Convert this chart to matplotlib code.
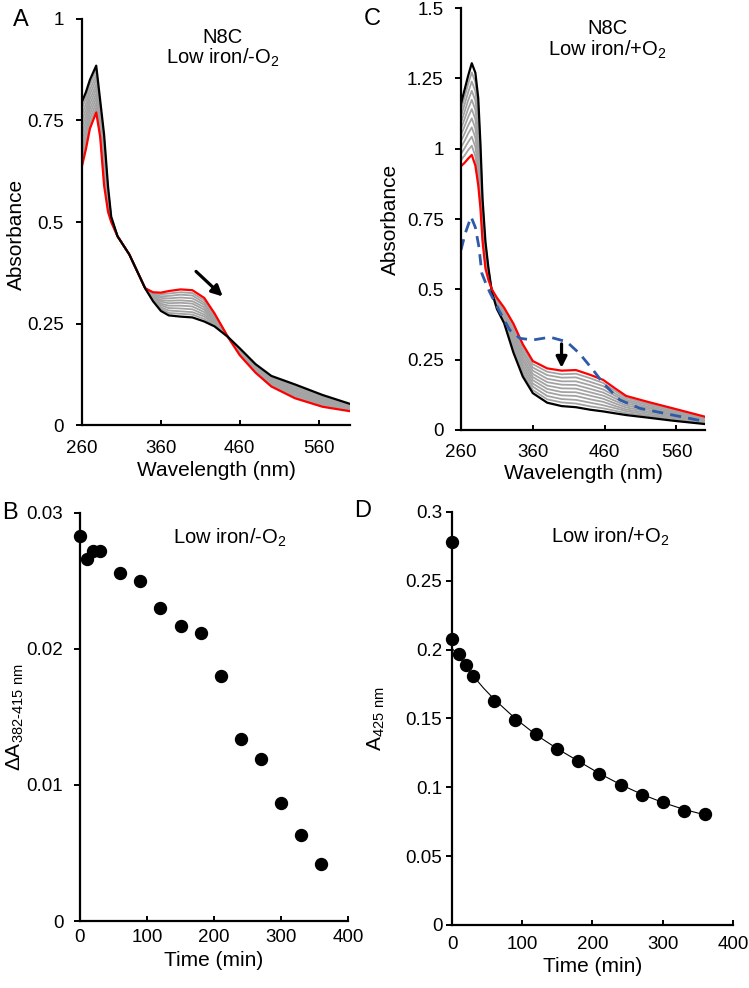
import matplotlib
matplotlib.use('Agg')
import matplotlib.pyplot as plt

plt.rcParams['font.family'] = ['Liberation Sans', 'DejaVu Sans']
plt.rcParams['mathtext.fontset'] = 'custom'
plt.rcParams['mathtext.rm'] = 'Liberation Sans'
plt.rcParams['mathtext.default'] = 'regular'

# ---- panel A: spectra, low iron / -O2 ----
wl_A = [260, 265, 270, 278, 283, 288, 293, 297, 305, 320, 340, 350, 360, 370,
        385, 400, 415, 428, 445, 460, 480, 500, 530, 565, 600]
red_A = [0.638, 0.68, 0.73, 0.77, 0.71, 0.59, 0.525, 0.50, 0.465, 0.42, 0.337,
         0.327, 0.326, 0.330, 0.334, 0.332, 0.313, 0.275, 0.217, 0.172, 0.129,
         0.095, 0.066, 0.045, 0.034]
black_A = [0.796, 0.82, 0.85, 0.885, 0.80, 0.715, 0.587, 0.513, 0.465, 0.42,
           0.337, 0.305, 0.281, 0.270, 0.267, 0.265, 0.255, 0.243, 0.217, 0.189,
           0.150, 0.121, 0.100, 0.074, 0.052]
gray_A = [
    [.654, .694, .742, .782, .719, .603, .531, .501, .465, .42, .337, .325, .322, .324, .327, .325, .307, .272, .217, .174, .131, .098, .069, .048, .036],
    [.670, .708, .754, .793, .728, .615, .537, .503, .465, .42, .337, .323, .317, .318, .321, .319, .301, .269, .217, .175, .133, .100, .073, .051, .038],
    [.685, .722, .766, .805, .737, .628, .544, .504, .465, .42, .337, .320, .313, .312, .314, .312, .296, .265, .217, .177, .135, .103, .076, .054, .039],
    [.701, .736, .778, .816, .746, .640, .550, .505, .465, .42, .337, .318, .308, .306, .307, .305, .290, .262, .217, .179, .137, .105, .080, .057, .041],
    [.717, .750, .790, .828, .755, .653, .556, .507, .465, .42, .337, .316, .304, .300, .301, .299, .284, .259, .217, .181, .140, .108, .083, .060, .043],
    [.733, .764, .802, .839, .764, .665, .562, .508, .465, .42, .337, .314, .299, .294, .294, .292, .278, .256, .217, .182, .142, .111, .086, .062, .045],
    [.749, .778, .814, .851, .773, .678, .568, .509, .465, .42, .337, .312, .295, .288, .287, .285, .272, .253, .217, .184, .144, .113, .090, .065, .047],
    [.764, .792, .826, .862, .782, .690, .575, .510, .465, .42, .337, .309, .290, .282, .280, .278, .267, .249, .217, .186, .146, .116, .093, .068, .048],
    [.780, .806, .838, .874, .791, .703, .581, .512, .465, .42, .337, .307, .286, .276, .274, .272, .261, .246, .217, .187, .148, .118, .097, .071, .050],
]

# ---- panel C: spectra, low iron / +O2 ----
wl_C = [260, 265, 270, 275, 280, 284, 287, 290, 294, 298, 303, 310, 320, 333,
        346, 360, 380, 400, 420, 440, 458, 475, 490, 520, 555, 600]
red_C = [0.938, 0.95, 0.965, 0.978, 0.94, 0.87, 0.79, 0.67, 0.575, 0.535, 0.50,
         0.47, 0.435, 0.378, 0.305, 0.245, 0.219, 0.211, 0.213, 0.196, 0.178,
         0.147, 0.121, 0.100, 0.077, 0.047]
black_C = [1.16, 1.21, 1.26, 1.304, 1.27, 1.18, 1.02, 0.82, 0.67, 0.58, 0.49,
           0.43, 0.38, 0.275, 0.19, 0.131, 0.097, 0.085, 0.081, 0.072, 0.066,
           0.059, 0.053, 0.044, 0.033, 0.021]
gray_C = [
    [.960, .976, .995, 1.011, .973, .901, .813, .685, .585, .540, .499, .466, .430, .368, .294, .234, .207, .198, .200, .184, .167, .138, .114, .094, .073, .044],
    [.982, 1.002, 1.024, 1.043, 1.006, .932, .836, .700, .594, .544, .498, .462, .424, .357, .282, .222, .195, .186, .187, .171, .156, .129, .107, .089, .068, .042],
    [1.005, 1.028, 1.054, 1.076, 1.039, .963, .859, .715, .604, .549, .497, .458, .419, .347, .271, .211, .182, .173, .173, .159, .144, .121, .101, .083, .064, .039],
    [1.027, 1.054, 1.083, 1.108, 1.072, .994, .882, .730, .613, .553, .496, .454, .413, .337, .259, .199, .170, .161, .160, .146, .133, .112, .094, .078, .059, .037],
    [1.049, 1.080, 1.113, 1.141, 1.105, 1.025, .905, .745, .623, .558, .495, .450, .408, .327, .248, .188, .158, .148, .147, .134, .122, .103, .087, .072, .055, .034],
    [1.071, 1.106, 1.142, 1.174, 1.138, 1.056, .928, .760, .632, .562, .494, .446, .402, .316, .236, .177, .146, .135, .134, .122, .111, .094, .080, .066, .051, .031],
    [1.093, 1.132, 1.172, 1.206, 1.171, 1.087, .951, .775, .642, .567, .493, .442, .397, .306, .225, .165, .134, .123, .121, .109, .100, .085, .073, .061, .046, .029],
    [1.116, 1.158, 1.201, 1.239, 1.204, 1.118, .974, .790, .651, .571, .492, .438, .391, .296, .213, .154, .121, .110, .107, .097, .088, .077, .067, .055, .042, .026],
    [1.138, 1.184, 1.231, 1.271, 1.237, 1.149, .997, .805, .661, .576, .491, .434, .386, .285, .202, .142, .109, .098, .094, .084, .077, .068, .060, .050, .037, .024],
]
wl_blue = [260, 266, 274, 280, 285, 289, 294, 300, 314, 328, 342, 360, 384,
           407, 425, 444, 458, 481, 509, 555, 600]
blue_C = [0.64, 0.70, 0.758, 0.72, 0.65, 0.557, 0.525, 0.49, 0.42, 0.355, 0.326,
          0.32, 0.33, 0.314, 0.272, 0.213, 0.166, 0.107, 0.077, 0.053, 0.030]

# ---- panel B ----
time_B = [0, 10, 20, 30, 60, 90, 120, 150, 180, 210, 240, 270, 300, 330, 360]
dA_B = [0.0283, 0.0266, 0.0272, 0.0272, 0.0256, 0.0250, 0.0230, 0.0217,
        0.0212, 0.0180, 0.0134, 0.0119, 0.0087, 0.0063, 0.0042]

# ---- panel D ----
time_D = [0, 0, 10, 20, 30, 60, 90, 120, 150, 180, 210, 240, 270, 300, 330, 360]
A425_D = [0.278, 0.2075, 0.197, 0.189, 0.181, 0.163, 0.149, 0.1385, 0.128,
          0.119, 0.1095, 0.1015, 0.0945, 0.089, 0.0825, 0.0805]
fit_t = [0, 10, 20, 30, 45, 60, 90, 120, 150, 180, 210, 240, 270, 300, 330, 360]
fit_v = [0.201, 0.195, 0.188, 0.181, 0.172, 0.164, 0.150, 0.138, 0.128, 0.119,
         0.110, 0.102, 0.095, 0.089, 0.084, 0.080]

GRAY = '#a3a3a3'
RED = '#ff0000'
BLUE = '#2e5aa8'

fig = plt.figure(figsize=(7.49, 9.88), dpi=100)
axA = fig.add_axes([0.1095, 0.5698, 0.358, 0.411])
axC = fig.add_axes([0.6155, 0.5648, 0.326, 0.427])
axB = fig.add_axes([0.1068, 0.0678, 0.358, 0.413])
axD = fig.add_axes([0.6035, 0.0638, 0.375, 0.418])


def style(ax, xpad, ypad):
    for s in ['top', 'right']:
        ax.spines[s].set_visible(False)
    for s in ['left', 'bottom']:
        ax.spines[s].set_linewidth(1.6)
    ax.tick_params(axis='x', direction='in', length=3.8, width=1.4,
                   labelsize=13.5, pad=xpad)
    ax.tick_params(axis='y', direction='out', length=4, width=1.4,
                   labelsize=13.5, pad=ypad)


# A
for g in gray_A:
    axA.plot(wl_A, g, color=GRAY, lw=1.3)
axA.plot(wl_A, red_A, color=RED, lw=1.6)
axA.plot(wl_A, black_A, color='k', lw=1.6)
axA.annotate('', xy=(441, 0.312), xytext=(402, 0.383),
             arrowprops=dict(arrowstyle='-|>', lw=2.3, color='k', mutation_scale=16))
axA.text(438, 0.978, 'N8C\nLow iron/-O$_2$', ha='center', va='top',
         fontsize=14.5, linespacing=1.0)
axA.set_xlim(260, 600)
axA.set_ylim(0, 1)
axA.set_xticks([260, 360, 460, 560])
axA.set_yticks([0, 0.25, 0.5, 0.75, 1])
axA.set_yticklabels(['0', '0.25', '0.5', '0.75', '1'])
style(axA, 11, 9)
axA.set_xlabel('Wavelength (nm)', fontsize=15, labelpad=3)
axA.set_ylabel('Absorbance', fontsize=15)
axA.yaxis.set_label_coords(-0.21, 0.47)

# C
for g in gray_C:
    axC.plot(wl_C, g, color=GRAY, lw=1.3)
axC.plot(wl_C, black_C, color='k', lw=1.6)
axC.plot(wl_C, red_C, color=RED, lw=1.6)
axC.plot(wl_blue, blue_C, color=BLUE, lw=2.0, ls=(0, (4, 2.6)))
axC.annotate('', xy=(400, 0.211), xytext=(400, 0.316),
             arrowprops=dict(arrowstyle='-|>', lw=2.3, color='k', mutation_scale=16))
axC.text(464, 1.46, 'N8C\nLow iron/+O$_2$', ha='center', va='top',
         fontsize=14.5, linespacing=1.0)
axC.set_xlim(260, 600)
axC.set_ylim(0, 1.5)
axC.set_xticks([260, 360, 460, 560])
axC.set_yticks([0, 0.25, 0.5, 0.75, 1, 1.25, 1.5])
axC.set_yticklabels(['0', '0.25', '0.5', '0.75', '1', '1.25', '1.5'])
style(axC, 10, 8.5)
axC.set_xlabel('Wavelength (nm)', fontsize=15, labelpad=2)
axC.set_ylabel('Absorbance', fontsize=15)
axC.yaxis.set_label_coords(-0.25, 0.5)

# B
axB.plot(time_B, dA_B, 'o', color='k', ms=8.6, clip_on=False)
axB.text(224, 0.0282, 'Low iron/-O$_2$', ha='center', va='center', fontsize=14.5)
axB.set_xlim(0, 400)
axB.set_ylim(0, 0.03)
axB.set_xticks([0, 100, 200, 300, 400])
axB.set_yticks([0, 0.01, 0.02, 0.03])
axB.set_yticklabels(['0', '0.01', '0.02', '0.03'])
style(axB, 6, 8)
axB.set_xlabel('Time (min)', fontsize=15, labelpad=3)
axB.set_ylabel(r'ΔA$_{382\text{-}415\ nm}$', fontsize=15)
axB.yaxis.set_label_coords(-0.2, 0.5)

# D
axD.plot(fit_t, fit_v, color='k', lw=0.8)
axD.plot(time_D, A425_D, 'o', color='k', ms=8.6, clip_on=False)
axD.text(225, 0.282, 'Low iron/+O$_2$', ha='center', va='center', fontsize=14.5)
axD.set_xlim(0, 400)
axD.set_ylim(0, 0.3)
axD.set_xticks([0, 100, 200, 300, 400])
axD.set_yticks([0, 0.05, 0.1, 0.15, 0.2, 0.25, 0.3])
axD.set_yticklabels(['0', '0.05', '0.1', '0.15', '0.2', '0.25', '0.3'])
style(axD, 8, 3)
axD.set_xlabel('Time (min)', fontsize=15, labelpad=3)
axD.set_ylabel(r'A$_{425\ nm}$', fontsize=15)
axD.yaxis.set_label_coords(-0.23, 0.5)

# panel letters
for lbl, x, y in [('A', 21, 20), ('C', 372, 19), ('B', 10, 513), ('D', 363, 511)]:
    fig.text(x / 749, 1 - y / 988, lbl, ha='center', va='center', fontsize=17)

fig.savefig('out.png', dpi=100)
